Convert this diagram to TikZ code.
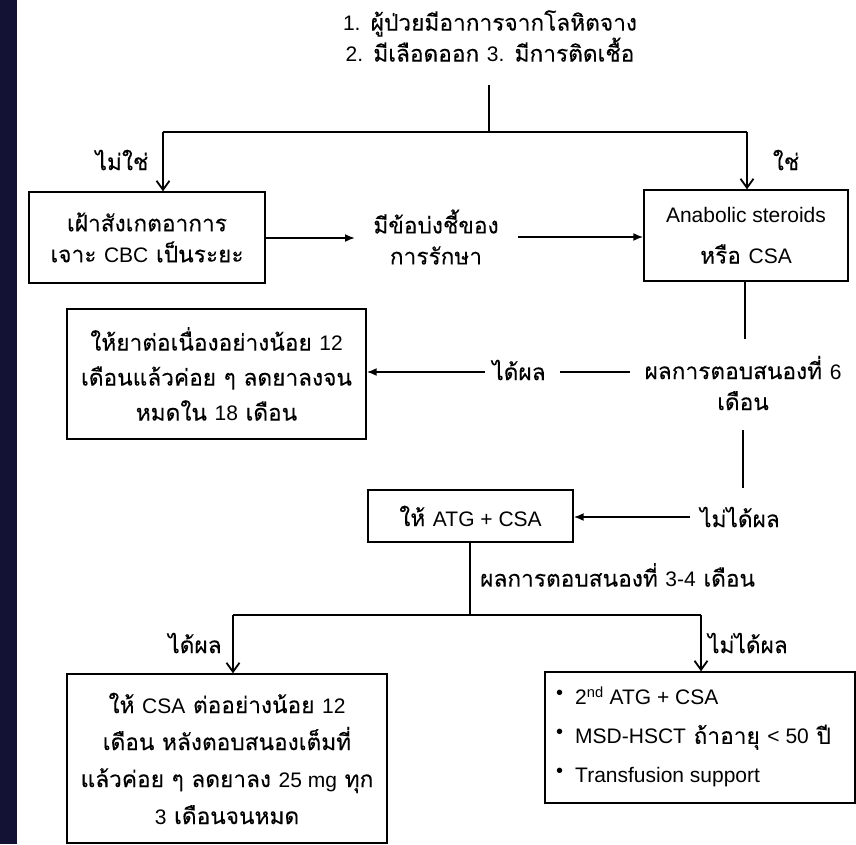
\documentclass[tikz,border=0pt]{standalone}
\usepackage{fontspec}
\setmainfont[Script=Thai,Scale=1.08,FakeBold=0.12]{Loma}
\newfontfamily\latfont{Liberation Sans}
\newcommand{\lat}[1]{{\latfont #1}}
\newcommand{\dotitem}{\raisebox{5.5pt}{\latfont\fontsize{20}{20}\selectfont\textbullet}\hspace{12pt}}
\usetikzlibrary{arrows.meta}
\definecolor{sidebar}{RGB}{19,17,52}

\begin{document}
\begin{tikzpicture}[x=1pt,y=-1pt,
  every node/.style={font=\fontsize{21}{31}\selectfont, inner sep=0pt},
  box/.style={draw, line width=1.4pt},
  link/.style={line width=1.8pt},
  down/.style={link, -{Straight Barb[length=9pt,width=13pt,line width=1.8pt]}},
  side/.style={link, -{Latex[length=10pt,width=8pt]}}]

% page frame and the dark strip on the left
\useasboundingbox (0,0) rectangle (856,844);
\fill[white] (0,0) rectangle (856,844);
\fill[sidebar] (0,0) rectangle (17,844);

% question at the top
\node[align=center, font=\fontsize{21}{28}\selectfont] (top) at (490,36)
  {\lat{1.} ผู้ป่วยมีอาการจากโลหิตจาง\\\lat{2.} มีเลือดออก \lat{3.} มีการติดเชื้อ};

% boxes
\node[box, minimum width=236pt, minimum height=91pt, align=center] (b1) at (147,237.5)
  {เฝ้าสังเกตอาการ\\เจาะ \lat{CBC} เป็นระยะ};
\node[box, minimum width=204pt, minimum height=91pt, align=center,
  font=\fontsize{21}{41}\selectfont] (b2) at (746,235.5)
  {\lat{Anabolic steroids}\\หรือ \lat{CSA}};
\node[box, minimum width=299pt, minimum height=130pt, align=center,
  font=\fontsize{21}{35}\selectfont] (b3) at (216.5,374)
  {ให้ยาต่อเนื่องอย่างน้อย \lat{12}\\เดือนแล้วค่อย ๆ ลดยาลงจน\\หมดใน \lat{18} เดือน};
\node[box, minimum width=205pt, minimum height=52pt] (b4) at (470.5,516)
  {ให้ \lat{ATG + CSA}};
\node[box, minimum width=320pt, minimum height=169pt, align=center,
  font=\fontsize{21}{37}\selectfont] (b5) at (227,758.5)
  {ให้ \lat{CSA} ต่ออย่างน้อย \lat{12}\\เดือน หลังตอบสนองเต็มที่\\แล้วค่อย ๆ ลดยาลง \lat{25 mg} ทุก\\\lat{3} เดือนจนหมด};
\node[box, minimum width=310pt, minimum height=131pt] (b6) at (700,737.5) {};
\node[anchor=west, align=left, font=\fontsize{21}{39}\selectfont] (b6t) at (556,737)
  {\dotitem\lat{2\textsuperscript{nd} ATG + CSA}\\
   \dotitem\lat{MSD-HSCT} ถ้าอายุ \lat{< 50} ปี\\
   \dotitem\lat{Transfusion support}};

% free-standing texts
\node[align=center] (ind) at (436,237) {มีข้อบ่งชี้ของ\\การรักษา};
\node[align=center] (r6) at (743,383) {ผลการตอบสนองที่ \lat{6}\\เดือน};
\node (yes1) at (519,370) {ได้ผล};
\node (no1) at (740,517) {ไม่ได้ผล};
\node[anchor=west] (r34) at (480,575) {ผลการตอบสนองที่ \lat{3-4} เดือน};
\node (lno) at (122,160) {ไม่ใช่};
\node (lyes) at (786,160) {ใช่};
\node (lyes2) at (195,643) {ได้ผล};
\node (lno2) at (748,643) {ไม่ได้ผล};

% junction points
\coordinate (t0) at (489,85);
\coordinate (t1) at (489,132);
\coordinate (jl) at (163,132);
\coordinate (jr) at (747,132);
\coordinate (a1) at (355,238);
\coordinate (a2) at (518,237);
\coordinate (s1) at (745,339);
\coordinate (y1) at (630,372);
\coordinate (y2) at (560,372);
\coordinate (y3) at (485,372);
\coordinate (n1) at (743,430);
\coordinate (n2) at (743,488);
\coordinate (n3) at (690,517);
\coordinate (m1) at (470,615);
\coordinate (ml) at (233,615);
\coordinate (mr) at (701,615);

% connectors
\draw[link] (t0) -- (t1);
\draw[link] (jl) -- (jr);
\draw[down] (jl) -- (jl |- b1.north);
\draw[down] (jr) -- (jr |- b2.north);
\draw[side] (b1.east |- a1) -- (a1);
\draw[side] (a2) -- (a2 -| b2.west);
\draw[link] (s1 |- b2.south) -- (s1);
\draw[link] (y1) -- (y2);
\draw[side] (y3) -- (y3 -| b3.east);
\draw[link] (n1) -- (n2);
\draw[side] (n3) -- (n3 -| b4.east);
\draw[link] (m1 |- b4.south) -- (m1);
\draw[link] (ml) -- (mr);
\draw[down] (ml) -- (ml |- b5.north);
\draw[down] (mr) -- (mr |- b6.north);
\end{tikzpicture}
\end{document}
